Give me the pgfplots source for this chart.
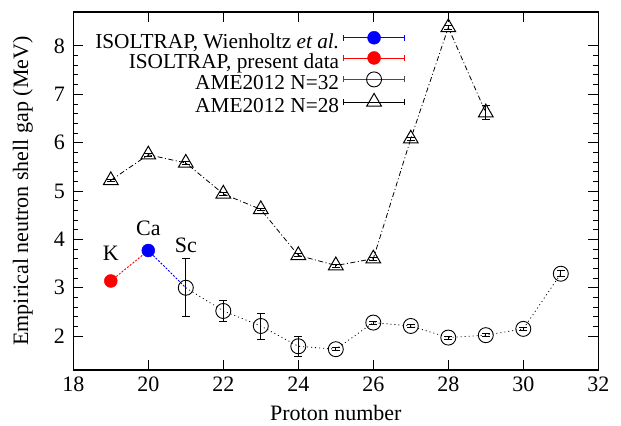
\documentclass[border=0pt]{standalone}
\usepackage{fontspec}
\setmainfont{Liberation Serif}
\usepackage{pgfplots}
\pgfplotsset{compat=1.18}

\begin{document}
\begin{tikzpicture}
\begin{axis}[
    scale only axis,
    width=525bp, height=358bp,
    xmin=18, xmax=32, ymin=1.3, ymax=8.7,
    xtick={18,20,...,32}, ytick={2,...,8},
    minor y tick num=4,
    tick align=inside,
    major tick length=10bp, minor tick length=5bp,
    axis line style={line width=1.1bp},
    every tick/.style={black, line width=0.8bp},
    font=\fontsize{22bp}{26bp}\selectfont,
    tick label style={font=\fontsize{22bp}{26bp}\selectfont},
    xticklabel style={yshift=-3bp},
    yticklabel style={xshift=-5bp},
    /pgf/number format/assume math mode=true,
    xlabel={Proton number},
    ylabel={Empirical neutron shell gap (MeV)},
    xlabel style={yshift=-7bp},
    ylabel style={yshift=14bp},
    legend plot pos=right,
    legend cell align=right,
    legend style={draw=none, fill=none, at={(axis cs:26.85,8.31)}, anchor=north east,
        inner sep=0bp, row sep=-2bp,
        nodes={inner xsep=4bp, inner ysep=0bp, text height=14bp, text depth=5bp},
        font=\fontsize{21.3bp}{24bp}\selectfont},
    clip=false,
]

% connecting lines of the ISOLTRAP points
\addplot[red, line width=0.9bp, dash pattern=on 2bp off 1.5bp, forget plot]
coordinates {(19,3.14) (20,3.77)};
\addplot[blue, line width=0.9bp, dash pattern=on 2bp off 1.5bp, forget plot]
coordinates {(20,3.77) (21,3.00)};

% ---------- ISOLTRAP, Wienholtz et al. ----------
\addplot[only marks, mark=*, mark size=6.5bp, blue, mark options={fill=blue},
    legend image code/.code={
        \draw[solid, blue, line width=0.8bp] (0bp,6bp) -- (61bp,6bp);
        \draw[solid, blue, line width=0.8bp] (0bp,3bp) -- (0bp,9bp) (61bp,3bp) -- (61bp,9bp);
        \fill[blue] (30.5bp,6bp) circle (6.5bp);
    }]
coordinates {(20,3.77)};
\addlegendentry{ISOLTRAP, Wienholtz \textit{et al.}}

% ---------- ISOLTRAP, present data ----------
\addplot[only marks, mark=*, mark size=6.5bp, red, mark options={fill=red},
    legend image code/.code={
        \draw[solid, red, line width=0.8bp] (0bp,6bp) -- (61bp,6bp);
        \draw[solid, red, line width=0.8bp] (0bp,3bp) -- (0bp,9bp) (61bp,3bp) -- (61bp,9bp);
        \fill[red] (30.5bp,6bp) circle (6.5bp);
    }]
coordinates {(19,3.14)};
\addlegendentry{ISOLTRAP, present data}

% ---------- AME2012 N=32 ----------
\addplot[black, line width=0.8bp, dash pattern=on 1bp off 3bp,
    mark=o, mark size=7.5bp, mark options={solid, line width=0.9bp},
    legend image code/.code={
        \draw[solid, black!70, line width=0.8bp] (0bp,6bp) -- (61bp,6bp);
        \draw[solid, black!70, line width=0.8bp] (0bp,3bp) -- (0bp,9bp) (61bp,3bp) -- (61bp,9bp);
        \draw[solid, black, line width=0.9bp] (30.5bp,6bp) circle (7.5bp);
    },
    error bars/.cd, y dir=both, y explicit, error mark=|,
    error mark options={solid, mark size=4bp, line width=0.8bp},
    error bar style={solid, line width=0.8bp}]
coordinates {
(21,3.00) +- (0,0.60)
(22,2.52) +- (0,0.22)
(23,2.21) +- (0,0.27)
(24,1.79) +- (0,0.20)
(25,1.73) +- (0,0.03)
(26,2.28) +- (0,0.03)
(27,2.21) +- (0,0.03)
(28,1.97) +- (0,0.03)
(29,2.02) +- (0,0.03)
(30,2.15) +- (0,0.04)
(31,3.29) +- (0,0.06)
};
\addlegendentry{AME2012 N=32}

% ---------- AME2012 N=28 ----------
\addplot[black, line width=0.8bp, dash pattern=on 5bp off 2.5bp on 1bp off 2.5bp,
    mark=triangle, mark size=8.5bp, mark options={solid, line width=1bp},
    legend image code/.code={
        \draw[solid, black, line width=0.8bp] (0bp,6bp) -- (61bp,6bp);
        \draw[solid, black, line width=0.8bp] (0bp,3bp) -- (0bp,9bp) (61bp,3bp) -- (61bp,9bp);
        \draw[solid, black, line width=1bp] (30.5bp,14.5bp) -- (23.1bp,1.75bp) -- (37.9bp,1.75bp) -- cycle;
    },
    error bars/.cd, y dir=both, y explicit, error mark=|,
    error mark options={solid, mark size=4bp, line width=0.8bp},
    error bar style={solid, line width=0.8bp}]
coordinates {
(19,5.22) +- (0,0.03)
(20,5.75) +- (0,0.03)
(21,5.58) +- (0,0.03)
(22,4.94) +- (0,0.03)
(23,4.62) +- (0,0.03)
(24,3.67) +- (0,0.03)
(25,3.46) +- (0,0.03)
(26,3.60) +- (0,0.03)
(27,6.08) +- (0,0.03)
(28,8.38) +- (0,0.05)
(29,6.62) +- (0,0.15)
};
\addlegendentry{AME2012 N=28}

\node at (axis cs:19,3.71) {K};
\node at (axis cs:20,4.23) {Ca};
\node at (axis cs:21,3.88) {Sc};

\end{axis}
\useasboundingbox (current axis.south west) ++(-73.3bp,-56bp) rectangle ++(621bp,426bp);
\end{tikzpicture}
\end{document}
